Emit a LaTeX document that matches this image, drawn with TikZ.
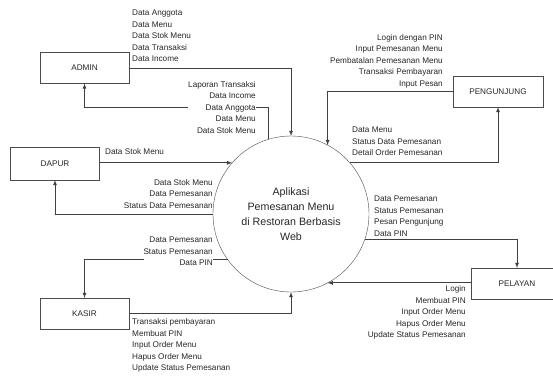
\documentclass[tikz,border=0pt]{standalone}
\usepackage{fontspec}
\setmainfont{Liberation Sans}
\usetikzlibrary{calc}
\usetikzlibrary{arrows}
\tikzset{%
    entity/.style={inner sep=0pt,outer sep=0pt,shape=rectangle,draw=black!70,minimum width=89pt,minimum height=31pt,text=black!85,font=\fontsize{8.2}{10}\selectfont},
    process/.style={inner sep=0pt,outer sep=0pt,shape=circle,draw=black!70,minimum size=156pt,align=center,text=black!85,font=\fontsize{10.7}{15}\selectfont},
    flow/.style={->,>=latex,draw=black!75,line width=0.8pt},
    datalist/.style={inner sep=0pt,text=black!85,font=\fontsize{8.2}{11.5}\selectfont},
}

\begin{document}
\begin{tikzpicture}[x=1pt,y=-1pt]
      \useasboundingbox (0,0) rectangle (553,377);
      \node [process] (web) at (291,214) {Aplikasi\\Pemesanan Menu\\di Restoran Berbasis\\Web};
      \node [entity] (admin) at (84.5,68) {ADMIN};
      \node [entity,minimum height=33pt] (dapur) at (55,163.5) {DAPUR};
      \node [entity] (kasir) at (84.5,313.5) {KASIR};
      \node [entity,minimum width=90pt] (pengunjung) at (498,91.5) {PENGUNJUNG};
      \node [entity,minimum width=92pt] (pelayan) at (517,283.5) {PELAYAN};

      \draw [flow] (admin.east) -| (web.north);
      \draw [flow] (web.107) -- ++(0,-32) -| (admin.south);
      \draw [flow] (pengunjung.west) -| (web.62);
      \draw [flow] (web.41) -| (pengunjung.south);
      \draw [flow] (dapur.east |- web.139) -- (web.139);
      \draw [flow] (web.west) -| (dapur.south);
      \draw [flow] (web.216) -| (kasir.north);
      \draw [flow] (kasir.east) -| (web.south);
      \draw [flow] (web.341) -| (pelayan.north);
      \draw [flow] (pelayan.west |- web.298) -- (web.298);

      \node [datalist,align=left,anchor=west] (adminout) at (132,36) {Data Anggota\\Data Menu\\Data Stok Menu\\Data Transaksi\\Data Income};
      \node [datalist,align=right,anchor=east,fill=white] (adminin) at (256,107.5) {Laporan Transaksi\\Data Income\\Data Anggota\\Data Menu\\Data Stok Menu};
      \node [datalist,align=right,anchor=east] (pengunjungout) at (443,61) {Login dengan PIN\\Input Pemesanan Menu\\Pembatalan Pemesanan Menu\\Transaksi Pembayaran\\Input Pesan};
      \node [datalist,align=left,anchor=west] (pengunjungin) at (352,141.5) {Data Menu\\Status Data Pemesanan\\Detail Order Pemesanan};
      \node [datalist,anchor=west] (dapurout) at (105,151.5) {Data Stok Menu};
      \node [datalist,align=right,anchor=east] (dapurin) at (213,194) {Data Stok Menu\\Data Pemesanan\\Status Data Pemesanan};
      \node [datalist,align=right,anchor=east,fill=white] (kasirin) at (213,251.5) {Data Pemesanan\\Status Pemesanan\\Data PIN};
      \node [datalist,align=left,anchor=west] (kasirout) at (132,345.5) {Transaksi pembayaran\\Membuat PIN\\Input Order Menu\\Hapus Order Menu\\Update Status Pemesanan};
      \node [datalist,align=left,anchor=west] (pelayanin) at (374,216) {Data Pemesanan\\Status Pemesanan\\Pesan Pengunjung\\Data PIN};
      \node [datalist,align=right,anchor=east] (pelayanout) at (466,312.5) {Login\\Membuat PIN\\Input Order Menu\\Hapus Order Menu\\Update Status Pemesanan};
\end{tikzpicture}
\end{document}
